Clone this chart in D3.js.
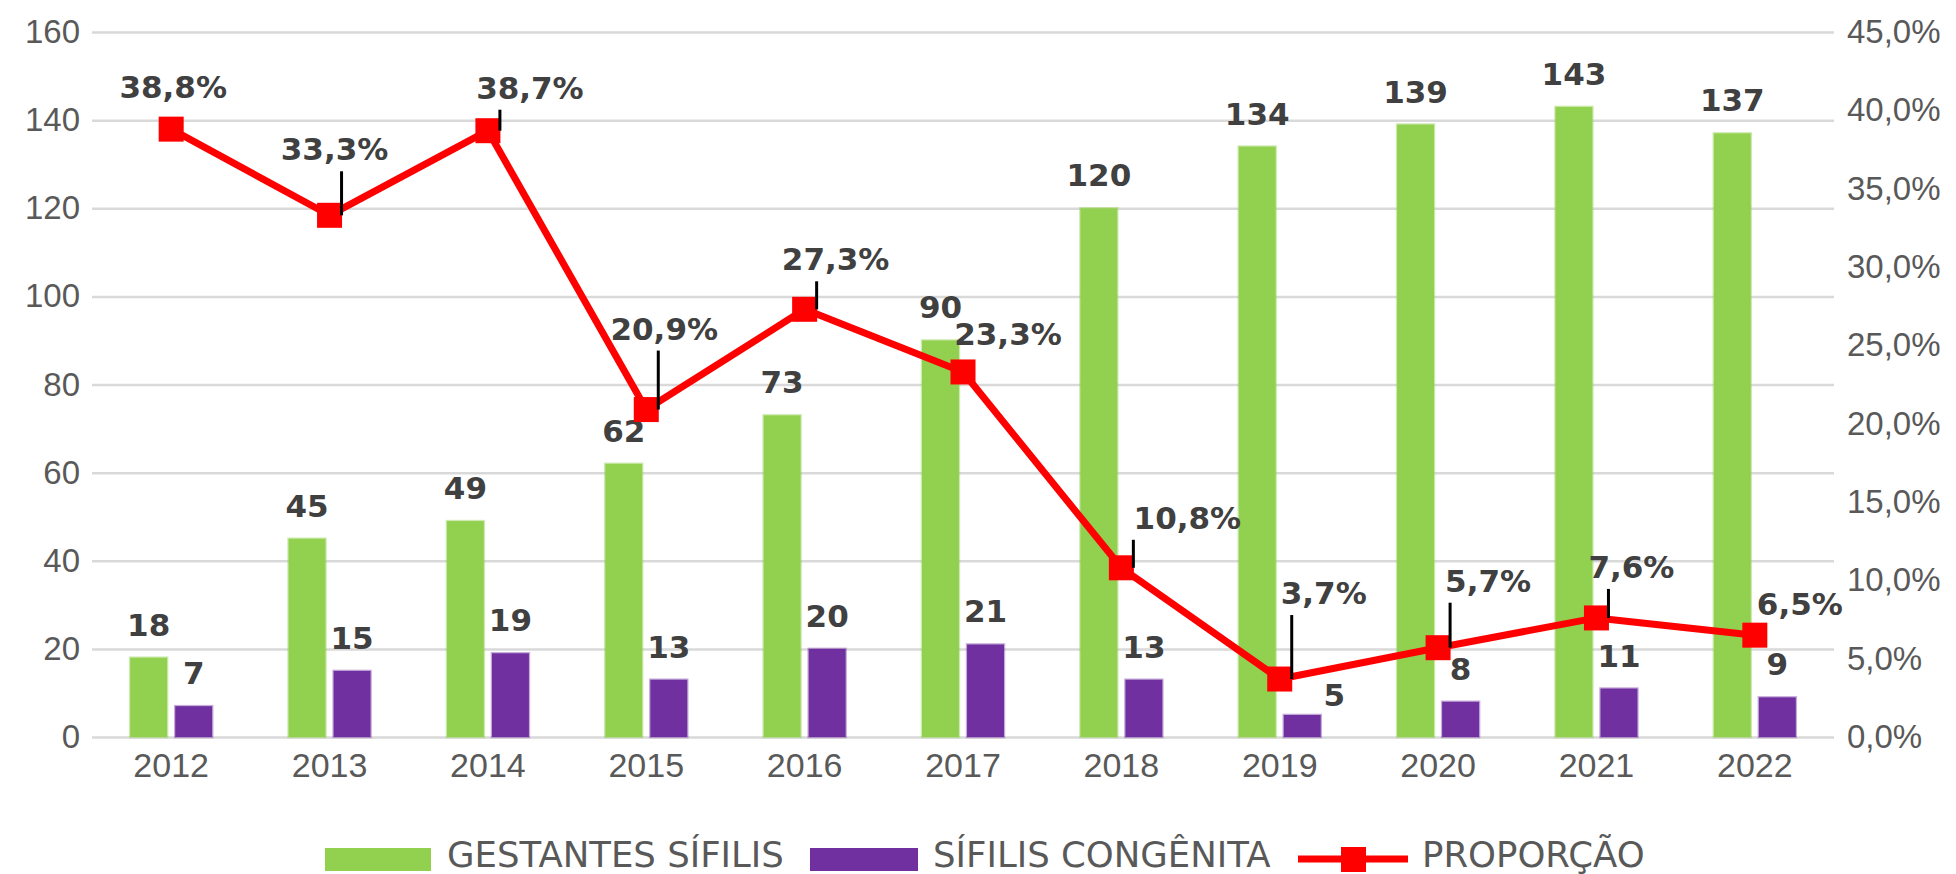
<!DOCTYPE html>
<html lang="pt">
<head>
  <meta charset="UTF-8" />
  <title>Sífilis gestante e congênita</title>
  <style>
    html, body {
      margin: 0;
      padding: 0;
      background: #ffffff;
    }
    svg {
      display: block;
      font-family: "DejaVu Sans", Verdana, sans-serif;
    }
    .axis text {
      fill: #595959;
      font-size: 33px;
    }
    .axis.xaxis text {
      font-size: 34px;
    }
    .lbl {
      fill: #404040;
      font-size: 31px;
      font-weight: bold;
    }
    .legend text {
      fill: #595959;
      font-size: 35.5px;
    }
  </style>
</head>
<body>
  <svg id="chart" width="1956" height="874"></svg>

  <script src="https://d3js.org/d3.v7.min.js"></script>
  <script>
    // dados
    const years = ["2012", "2013", "2014", "2015", "2016", "2017", "2018", "2019", "2020", "2021", "2022"];
    const gestantes = [18, 45, 49, 62, 73, 90, 120, 134, 139, 143, 137];
    const congenita = [7, 15, 19, 13, 20, 21, 13, 5, 8, 11, 9];
    const proporcao = [0.388, 0.333, 0.387, 0.209, 0.273, 0.233, 0.108, 0.037, 0.057, 0.076, 0.065];
    const leftTicks = [0, 20, 40, 60, 80, 100, 120, 140, 160];
    const rightTicks = [0, 0.05, 0.10, 0.15, 0.20, 0.25, 0.30, 0.35, 0.40, 0.45];
    const seriesNames = ["GESTANTES SÍFILIS", "SÍFILIS CONGÊNITA", "PROPORÇÃO"];

    // posição dos rótulos de % (deslocamento em px a partir do marcador) e linha guia
    const pctLabelOffset = [[2, -42], [5, -66], [42, -43], [18, -81], [31, -50], [45, -38],
                            [66, -50], [44, -86], [50, -67], [35, -51], [45, -31]];
    const pctLeader = [false, true, true, true, true, false, true, true, true, true, false];

    const plot = { left: 92, right: 1834, top: 32, bottom: 737 };
    const green = "#92d050", purple = "#7030a0", red = "#ff0000";

    const svg = d3.select("#chart");

    const x = d3.scaleBand().domain(years).range([plot.left, plot.right]);
    const xSub = d3.scaleBand().domain(["g", "c"]).range([0, 82]).paddingInner(0.18);
    const y = d3.scaleLinear().domain([0, 160]).range([plot.bottom, plot.top]);
    const yR = d3.scaleLinear().domain([0, 0.45]).range([plot.bottom, plot.top]);

    const br = d3.formatLocale({ decimal: ",", thousands: ".", grouping: [3], currency: ["R$", ""] });
    const pct = br.format(".1%");

    const cx = d => x(d) + x.bandwidth() / 2;

    // linhas de grade
    svg.append("g")
      .attr("transform", `translate(${plot.left},0)`)
      .call(d3.axisLeft(y).tickValues(leftTicks).tickSize(-(plot.right - plot.left)).tickFormat(""))
      .call(g => g.select(".domain").remove())
      .call(g => g.selectAll("line").attr("stroke", "#d9d9d9").attr("stroke-width", 2.5));

    // eixo esquerdo
    svg.append("g")
      .attr("class", "axis")
      .attr("transform", `translate(${plot.left},0)`)
      .call(d3.axisLeft(y).tickValues(leftTicks).tickSize(0).tickPadding(12))
      .call(g => g.select(".domain").remove())
      .call(g => g.selectAll("text").attr("font-family", null).attr("font-size", null));

    // eixo direito
    svg.append("g")
      .attr("class", "axis")
      .attr("transform", `translate(${plot.right},0)`)
      .call(d3.axisRight(yR).tickValues(rightTicks).tickSize(0).tickPadding(13).tickFormat(pct))
      .call(g => g.select(".domain").remove())
      .call(g => g.selectAll("text").attr("font-family", null).attr("font-size", null));

    // eixo x
    svg.append("g")
      .attr("class", "axis xaxis")
      .attr("transform", `translate(0,${plot.bottom})`)
      .call(d3.axisBottom(x).tickSize(0).tickPadding(16))
      .call(g => g.select(".domain").remove())
      .call(g => g.selectAll("text").attr("font-family", null).attr("font-size", null));

    // barras
    const groups = svg.append("g").selectAll("g")
      .data(years)
      .join("g")
      .attr("transform", d => `translate(${cx(d) - 41},0)`);

    groups.append("rect")
      .attr("x", xSub("g"))
      .attr("width", xSub.bandwidth())
      .attr("y", (d, i) => y(gestantes[i]))
      .attr("height", (d, i) => y(0) - y(gestantes[i]))
      .attr("fill", green)
      .attr("stroke", green).attr("stroke-opacity", 0.45).attr("stroke-width", 2.5);

    groups.append("rect")
      .attr("x", xSub("c"))
      .attr("width", xSub.bandwidth())
      .attr("y", (d, i) => y(congenita[i]))
      .attr("height", (d, i) => y(0) - y(congenita[i]))
      .attr("fill", purple)
      .attr("stroke", purple).attr("stroke-opacity", 0.4).attr("stroke-width", 2.5);

    // rótulos das barras
    groups.append("text")
      .attr("class", "lbl")
      .attr("text-anchor", "middle")
      .attr("x", xSub("g") + xSub.bandwidth() / 2)
      .attr("y", (d, i) => y(gestantes[i]) - 22)
      .text((d, i) => gestantes[i]);

    groups.append("text")
      .attr("class", "lbl")
      .attr("text-anchor", "middle")
      .attr("x", d => xSub("c") + xSub.bandwidth() / 2 + (d === "2019" ? 32 : 0))
      .attr("y", (d, i) => y(congenita[i]) - (d === "2019" ? 9 : 22))
      .text((d, i) => congenita[i]);

    // linha da proporção
    const line = d3.line()
      .x((d, i) => cx(years[i]))
      .y(d => yR(d));

    svg.append("path")
      .datum(proporcao)
      .attr("fill", "none")
      .attr("stroke", red)
      .attr("stroke-width", 7)
      .attr("stroke-linejoin", "round")
      .attr("d", line);

    svg.append("g").selectAll("rect")
      .data(proporcao)
      .join("rect")
      .attr("x", (d, i) => cx(years[i]) - 12.5)
      .attr("y", d => yR(d) - 12.5)
      .attr("width", 25)
      .attr("height", 25)
      .attr("fill", red);

    // linhas guia e rótulos de %
    proporcao.forEach((v, i) => {
      const mx = cx(years[i]), my = yR(v);
      const [dx, dy] = pctLabelOffset[i];
      if (pctLeader[i]) {
        svg.append("line")
          .attr("x1", mx + 12).attr("x2", mx + 12)
          .attr("y1", my).attr("y2", my + dy + 22)
          .attr("stroke", "#000").attr("stroke-width", 3);
      }
      svg.append("text")
        .attr("class", "lbl")
        .attr("text-anchor", "middle")
        .attr("x", mx + dx)
        .attr("y", my + dy + 11)
        .text(pct(v));
    });

    // legenda
    const legend = svg.append("g").attr("class", "legend");
    legend.append("rect").attr("x", 325).attr("y", 848).attr("width", 106).attr("height", 23).attr("fill", green);
    legend.append("text").attr("x", 447).attr("y", 867).text(seriesNames[0]);
    legend.append("rect").attr("x", 810).attr("y", 848).attr("width", 108).attr("height", 23).attr("fill", purple);
    legend.append("text").attr("x", 933).attr("y", 867).text(seriesNames[1]);
    legend.append("line").attr("x1", 1298).attr("x2", 1408).attr("y1", 859).attr("y2", 859)
      .attr("stroke", red).attr("stroke-width", 7);
    legend.append("rect").attr("x", 1341).attr("y", 847).attr("width", 25).attr("height", 25).attr("fill", red);
    legend.append("text").attr("x", 1422).attr("y", 867).text(seriesNames[2]);
  </script>
</body>
</html>
